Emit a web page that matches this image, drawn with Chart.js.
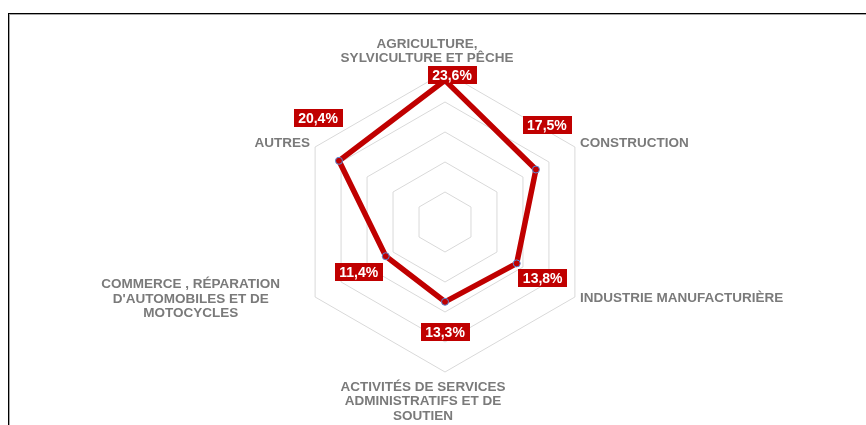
<!DOCTYPE html>
<html lang="fr">
<head>
<meta charset="utf-8">
<title>Répartition par secteur</title>
<script src="https://cdn.jsdelivr.net/npm/chart.js@4/dist/chart.umd.min.js"></script>
<style>
  html, body { margin: 0; padding: 0; background: #fff; }
  .cadre {
    position: absolute; left: 8px; top: 13px; width: 900px; height: 500px;
    border-top: 1px solid #000; border-left: 1px solid #000;
    box-shadow: inset 1px 1px 0 #a6a6a6;
  }
  #radar { position: absolute; left: 0; top: 0; }
</style>
</head>
<body>
<div class="cadre"></div>
<canvas id="radar" width="866" height="425"></canvas>
<script>
const secteurs = [
    ["AGRICULTURE,", "SYLVICULTURE ET PÊCHE"],
    ["CONSTRUCTION"],
    ["INDUSTRIE MANUFACTURIÈRE"],
    ["ACTIVITÉS DE SERVICES", "ADMINISTRATIFS ET DE", "SOUTIEN"],
    ["COMMERCE , RÉPARATION", "D'AUTOMOBILES ET DE", "MOTOCYCLES"],
    ["AUTRES"]
];
const parts = [23.6, 17.5, 13.8, 13.3, 11.4, 20.4];
const graduations = [0, 5, 10, 15, 20, 25];

const rouge = '#C00000';
const gris = '#7a7a7a';
const police = '"Liberation Sans", Arial, sans-serif';

function pourcent(v) {
    return v.toFixed(1).replace('.', ',') + '%';
}

// libellés des axes, dessinés à la main pour centrer chaque ligne
const libellesAxes = {
    id: 'libellesAxes',
    afterDraw(chart, args, opts) {
        const scale = chart.scales.r;
        const ctx = chart.ctx;
        const lh = 14.5;
        ctx.save();
        ctx.font = 'bold 13.5px ' + police;
        ctx.fillStyle = gris;
        ctx.textAlign = 'center';
        ctx.textBaseline = 'middle';
        secteurs.forEach((lignes, i) => {
            const p = scale.getPointPosition(i, scale.drawingArea);
            const larg = Math.max(...lignes.map(l => ctx.measureText(l).width));
            const haut = lignes.length * lh;
            const [dx, dy] = opts.decalages[i];
            const ang = scale.getIndexAngle(i);
            const s = Math.sin(ang), c = Math.cos(ang);
            let cx = p.x + dx, cy = p.y + dy;
            if (s > 0.1) cx += larg / 2;
            else if (s < -0.1) cx -= larg / 2;
            if (Math.abs(s) < 0.1) cy += c > 0 ? -haut / 2 : haut / 2;
            lignes.forEach((l, k) => {
                ctx.fillText(l, cx, cy - haut / 2 + lh * (k + 0.5));
            });
        });
        ctx.restore();
    }
};

// étiquettes de valeur sur fond rouge
const etiquettes = {
    id: 'etiquettes',
    afterDatasetsDraw(chart, args, opts) {
        const ctx = chart.ctx;
        const meta = chart.getDatasetMeta(0);
        ctx.save();
        ctx.font = 'bold 14px ' + police;
        ctx.textAlign = 'center';
        ctx.textBaseline = 'middle';
        meta.data.forEach((pt, i) => {
            const txt = pourcent(parts[i]);
            const w = ctx.measureText(txt).width + 9;
            const h = 18;
            const [dx, dy] = opts.decalages[i];
            const x = pt.x + dx, y = pt.y + dy;
            ctx.fillStyle = rouge;
            ctx.fillRect(Math.round(x - w / 2), Math.round(y - h / 2), Math.round(w), h);
            ctx.fillStyle = '#fff';
            ctx.fillText(txt, x, y + 1);
        });
        ctx.restore();
    }
};

new Chart(document.getElementById('radar'), {
    type: 'radar',
    data: {
        labels: secteurs,
        datasets: [{
            data: parts,
            borderColor: rouge,
            borderWidth: 5.5,
            fill: false,
            pointRadius: 3.5,
            pointBackgroundColor: rouge,
            pointBorderColor: '#5b8bd6',
            pointBorderWidth: 1
        }]
    },
    options: {
        responsive: false,
        animation: false,
        layout: { padding: { left: 24, right: 0, top: 72, bottom: 53 } },
        scales: {
            r: {
                min: graduations[0],
                max: graduations[graduations.length - 1],
                ticks: { display: false, stepSize: 5 },
                afterBuildTicks: s => { s.ticks = graduations.map(v => ({ value: v })); },
                grid: { color: '#d9d9d9', lineWidth: 1 },
                angleLines: { display: false },
                pointLabels: { display: false }
            }
        },
        plugins: {
            legend: { display: false },
            tooltip: { enabled: false },
            libellesAxes: {
                decalages: [[-18, -6], [5, -4], [5, 1], [-22, 8], [-35, 2], [-5, -4]]
            },
            etiquettes: {
                decalages: [[7, -5], [11, -44], [26, 15], [0, 30], [-27, 16], [-21, -43]]
            }
        }
    },
    plugins: [libellesAxes, etiquettes]
});
</script>
</body>
</html>
